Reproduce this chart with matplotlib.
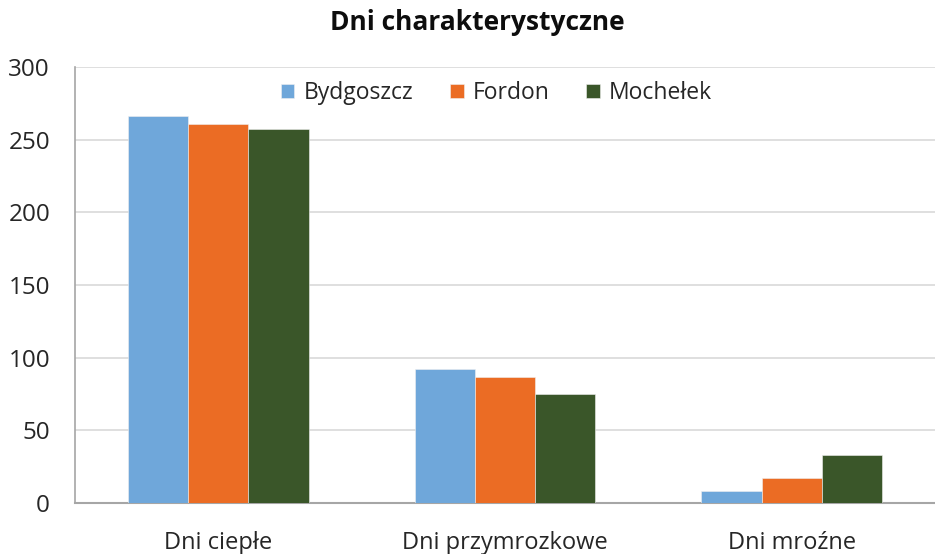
import matplotlib
matplotlib.use("Agg")
import matplotlib.pyplot as plt
import numpy as np

categories = ["Dni ciepłe", "Dni przymrozkowe", "Dni mroźne"]
series_names = ["Bydgoszcz", "Fordon", "Mochełek"]
bydgoszcz = [266, 92, 8]
fordon = [261, 87, 17]
mochelek = [257, 75, 33]
colors = ["#6FA7DA", "#EB6C24", "#3A5629"]
yticks = [0, 50, 100, 150, 200, 250, 300]

plt.rcParams['font.family'] = ['Open Sans', 'DejaVu Sans']

fig = plt.figure(figsize=(9.35, 5.54), dpi=100)
ax = fig.add_axes([75/935, 1-503/554, 1-75/935, (503-67)/554])

x = np.arange(len(categories))
w = 0.21
for i, (vals, name) in enumerate(zip([bydgoszcz, fordon, mochelek], series_names)):
    ax.bar(x + (i-1)*w, vals, w, color=colors[i], label=name, zorder=3,
           edgecolor='#f0f0f0', linewidth=0.4)

ax.set_xlim(-0.5, 2.5)
ax.set_ylim(0, 300)
ax.set_yticks(yticks)
ax.set_yticklabels([str(v) for v in yticks], fontsize=17.5, color='#262626')
ax.set_xticks(x)
ax.set_xticklabels(categories, fontsize=17, color='#262626')
ax.tick_params(axis='both', length=0)
ax.tick_params(axis='x', pad=20)
ax.tick_params(axis='y', pad=18)
ax.grid(axis='y', color='#D9D9D9', linewidth=1.2, zorder=0)
for s in ['top', 'right']:
    ax.spines[s].set_visible(False)
ax.spines['left'].set_color('#A6A6A6')
ax.spines['bottom'].set_color('#A6A6A6')
ax.spines['left'].set_linewidth(1.2)
ax.spines['bottom'].set_linewidth(1.5)

leg = ax.legend(loc='upper center', bbox_to_anchor=(0.49, 1.015), ncol=3, frameon=False,
                fontsize=16.5, handlelength=0.6, handleheight=0.6, handletextpad=0.4,
                columnspacing=1.6)
for t in leg.get_texts():
    t.set_color('#262626')

fig.text(0.51, 1-22/554, "Dni charakterystyczne", ha='center', va='center',
         fontsize=19, fontweight='bold', color='#0d0d0d')

fig.savefig("out.png", dpi=100)
